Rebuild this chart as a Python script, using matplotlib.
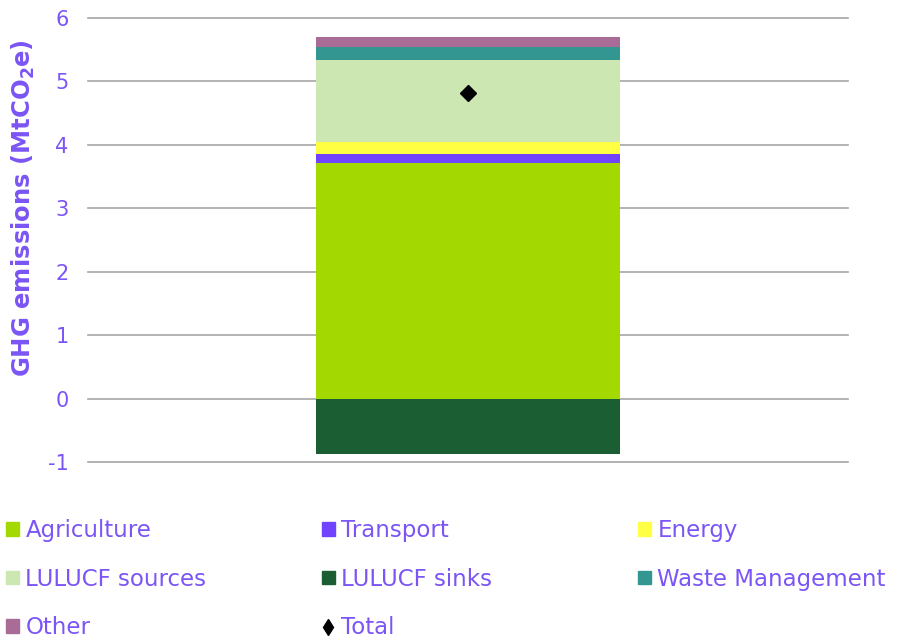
import matplotlib.pyplot as plt
from matplotlib.patches import Patch
from matplotlib.lines import Line2D

# valeurs (MtCO2e)
sectors = ['Agriculture', 'Transport', 'Energy', 'LULUCF sources', 'Waste Management', 'Other']
values = [3.71, 0.15, 0.18, 1.29, 0.21, 0.15]
colors = ['#A3D900', '#7143FF', '#FFFF44', '#CDE7B3', '#339691', '#A86C97']
sink_label = 'LULUCF sinks'
sink_value = -0.87
sink_color = '#1B5E33'
total = sum(values) + sink_value
yticks = [-1, 0, 1, 2, 3, 4, 5, 6]

txt = '#7B55F5'
plt.rcParams['font.family'] = ['DejaVu Sans']
plt.rcParams['axes.unicode_minus'] = False

fig = plt.figure(figsize=(9.07, 6.43), dpi=100)
ax = fig.add_axes([0.097, 0.2815, 0.838, 0.691])

bottom = 0
for name, v, c in zip(sectors, values, colors):
	ax.bar(0, v, bottom=bottom, width=0.4, color=c, zorder=2)
	bottom += v
ax.bar(0, sink_value, width=0.4, color=sink_color, zorder=2)
ax.plot([0], [total], 'D', color='black', markersize=8, zorder=3)

ax.set_xlim(-0.5, 0.5)
ax.set_ylim(-1, 6)
ax.set_yticks(yticks)
ax.set_xticks([])
ax.grid(axis='y', color='#A6A6A6', lw=1.2)
for gl in ax.get_ygridlines():
	gl.set_clip_on(False)
ax.set_axisbelow(True)
for s in ax.spines.values():
	s.set_visible(False)
ax.tick_params(axis='y', length=0, pad=14, labelsize=15, labelcolor=txt)
ax.set_ylabel(r'GHG emissions (MtCO$_\mathbf{2}$e)', color=txt, fontsize=17.5,
	fontweight='bold')
ax.yaxis.set_label_coords(-0.067, 0.572)

# legende en trois colonnes
h = {n: Patch(color=c) for n, c in zip(sectors, colors)}
h[sink_label] = Patch(color=sink_color)
h['Total'] = Line2D([], [], marker='d', color='black', ls='none', markersize=8.5)
cols = [['Agriculture', 'LULUCF sources', 'Other'],
	['Transport', 'LULUCF sinks', 'Total'],
	['Energy', 'Waste Management']]
xs = [6, 322, 638]
for names, x in zip(cols, xs):
	fig.legend([h[n] for n in names], names, loc='upper left',
		bbox_to_anchor=(x / 907, 1 - 519 / 643), frameon=False, borderpad=0,
		borderaxespad=0, fontsize=16.5, labelcolor=txt, handlelength=0.55,
		handleheight=0.55, handletextpad=0.3, labelspacing=1.12)

fig.savefig('out.png', dpi=100)
